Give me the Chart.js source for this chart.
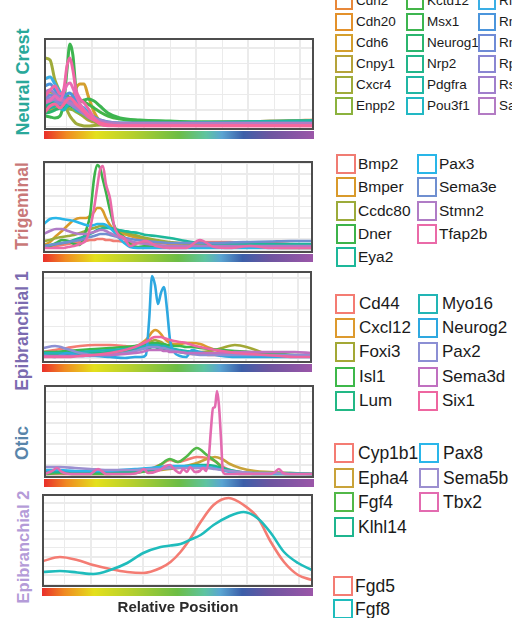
<!DOCTYPE html>
<html>
<head>
<meta charset="utf-8">
<script src="https://cdn.jsdelivr.net/npm/chart.js@4.4.0/dist/chart.umd.min.js"></script>
<style>
  body { margin:0; width:512px; height:618px; overflow:hidden; position:relative; background:#fff;
         font-family:"Liberation Sans", Arial, sans-serif; }
  canvas { position:absolute; }
  .ylab { position:absolute; font-weight:bold; white-space:nowrap; transform:translate(-50%,-50%) rotate(-90deg); }
  .leg { position:absolute; white-space:nowrap; color:#1a1a1a; }
  .leg span { position:absolute; left:0; top:0; box-sizing:border-box; border:2px solid; background:#fff; }
  .xlab { position:absolute; font-weight:bold; font-size:15px; color:#2b2b2b; transform:translate(-50%,-50%); white-space:nowrap; }
</style>
</head>
<body>
<script>
// ---- shared ----
var xGrid = [0.08, 0.177, 0.274, 0.371, 0.468, 0.565, 0.662, 0.759, 0.856, 0.953];

// ---- Neural Crest ----
var ncX = [0, 0.019, 0.037, 0.056, 0.071, 0.082, 0.093, 0.104, 0.116, 0.131, 0.146, 0.160, 0.183, 0.205, 0.235, 0.280, 0.354, 0.466, 0.578, 0.690, 0.802, 0.914, 1];
var ncYTicks = [0, 1.57, 3.14, 4.71, 6.28, 7.85];
var ncGenes = ["Cdh2", "Cdh20", "Cdh6", "Cnpy1", "Cxcr4", "Enpp2", "Kctd12", "Msx1", "Neurog1", "Nrp2", "Pdgfra", "Pou3f1", "Rfx4", "Rnd2", "Rnd3", "Rprm", "Rspo3", "Sall1", "Sox10", "Sox9", "Tfap2a"];
var ncCdh2    = [2.1,2.3,2.6,2.4,2.8,3.0,2.8,2.5,2.2,1.9,1.6,1.2,0.7,0.4,0.2, 0.2,0.25,0.3,0.35,0.4,0.45,0.5,0.6];
var ncCdh20   = [1.4,1.6,1.8,2.0,2.2,2.2,2.1,2.0,2.0,1.8,1.4,1.0,0.6,0.3,0.1, 0.1,0.1,0.1,0.1,0.1,0.1,0.1,0.1];
var ncCdh6    = [1.8,1.6,1.8,2.2,2.3,2.2,2.3,3.0,3.8,4.2,4.2,3.1,1.4,0.5,0.2, 0.15,0.2,0.3,0.35,0.4,0.45,0.5,0.55];
var ncCnpy1   = [3.1,3.4,3.2,2.6,2.4,2.3,2.2,2.0,1.6,1.2,0.9,0.6,0.4,0.2,0.1, 0.1,0.1,0.1,0.1,0.1,0.1,0.1,0.1];
var ncCxcr4   = [6.8,6.6,4.6,3.4,2.3,1.6,1.0,0.6,0.25,0.1,0,0,0.05,0.1,0.1, 0.1,0.1,0.1,0.1,0.1,0.1,0.1,0.1];
var ncEnpp2   = [2.2,2.6,2.8,2.4,2.0,1.8,1.7,1.6,1.4,1.2,1.0,0.8,0.5,0.3,0.2, 0.15,0.15,0.15,0.15,0.15,0.15,0.15,0.15];
var ncKctd12  = [1.8,2.0,2.3,2.6,2.8,3.0,2.8,2.6,2.5,2.5,2.4,2.2,1.8,1.4,1.0, 0.7,0.5,0.4,0.4,0.35,0.35,0.4,0.4];
var ncMsx1    = [1.0,0.9,0.8,1.0,2.6,5.6,8.2,7.1,3.6,2.5,2.6,2.7,2.5,2.0,1.3, 0.8,0.6,0.5,0.4,0.4,0.4,0.5,0.5];
var ncNeurog1 = [1.3,1.4,1.6,1.8,1.9,2.0,2.0,1.9,1.8,1.6,1.4,1.1,0.7,0.4,0.2, 0.15,0.15,0.15,0.15,0.15,0.15,0.15,0.15];
var ncNrp2    = [2.0,2.2,2.4,2.2,2.1,2.2,2.3,2.2,2.0,1.7,1.4,1.1,0.7,0.4,0.2, 0.2,0.2,0.2,0.2,0.2,0.2,0.2,0.2];
var ncPdgfra  = [1.6,1.8,2.0,2.2,2.6,2.8,2.6,2.3,2.0,1.8,1.6,1.3,0.9,0.6,0.4, 0.3,0.3,0.3,0.35,0.4,0.45,0.5,0.55];
var ncPou3f1  = [2.6,2.8,2.4,1.8,1.6,2.0,2.2,2.0,1.6,1.4,1.3,1.1,0.7,0.4,0.2, 0.1,0.1,0.1,0.1,0.1,0.1,0.1,0.1];
var ncRfx4    = [4.7,4.9,4.2,3.4,2.8,2.6,2.4,2.3,2.2,2.0,1.8,1.4,0.9,0.5,0.2, 0.1,0.1,0.1,0.1,0.1,0.1,0.1,0.1];
var ncRnd2    = [4.0,4.2,3.6,2.9,3.0,3.2,3.3,3.0,2.6,2.0,1.6,1.2,0.7,0.4,0.2, 0.15,0.15,0.15,0.15,0.15,0.15,0.15,0.15];
var ncRnd3    = [2.8,3.1,2.9,2.5,2.6,2.8,2.8,2.6,2.3,1.9,1.5,1.1,0.7,0.4,0.2, 0.2,0.2,0.2,0.2,0.2,0.2,0.2,0.2];
var ncRprm    = [2.6,2.8,2.6,2.2,2.4,2.6,2.6,2.4,2.2,1.8,1.4,1.1,0.8,0.6,0.4, 0.3,0.3,0.3,0.3,0.3,0.3,0.3,0.3];
var ncRspo3   = [3.4,3.6,3.2,2.8,2.6,2.4,2.2,2.0,1.8,1.5,1.2,0.9,0.6,0.4,0.3, 0.25,0.25,0.25,0.25,0.25,0.25,0.25,0.25];
var ncSall1   = [2.3,2.5,2.7,2.6,2.5,2.4,2.3,2.2,2.1,1.8,1.5,1.2,0.8,0.5,0.3, 0.25,0.25,0.25,0.25,0.25,0.25,0.25,0.25];
var ncSox10   = [3.0,3.6,4.0,3.2,3.8,6.0,6.8,5.6,3.6,2.7,2.3,1.8,0.8,0.2,0.02, 0.02,0.02,0.02,0.02,0.02,0.02,0.02,0.02];
var ncSox9    = [2.4,2.6,3.0,2.6,3.4,4.1,4.3,3.8,3.0,2.2,1.6,1.2,0.7,0.3,0.1, 0.05,0.05,0.05,0.05,0.05,0.05,0.05,0.05];
var ncTfap2a  = [1.4,2.0,2.2,1.8,2.2,2.6,2.8,2.6,2.2,1.8,1.4,1.0,0.6,0.3,0.1, 0.02,0.02,0.02,0.02,0.02,0.02,0.02,0.02];
var ncColors = ["#e8883a","#e3912b","#d49f2e","#b5a33a","#9fab3a","#8bb23e","#44b548","#3db550","#2bb56e","#22b58a","#20b6a4","#22b8c4","#3aaee5","#4b95dc","#6f8bd6","#8a86d2","#a07fcc","#b37bc4","#ef67a7","#e96bb5","#f7689c"];

// ---- Trigeminal ----
var tgX = [0, 0.022, 0.045, 0.067, 0.090, 0.112, 0.134, 0.157, 0.172, 0.187, 0.198, 0.209, 0.220, 0.231, 0.246, 0.261, 0.276, 0.299, 0.321, 0.351, 0.381, 0.418, 0.470, 0.530, 0.582, 0.634, 0.694, 0.769, 0.843, 0.918, 1];
var tgYTicks = [0, 1.08, 2.16, 3.24, 4.32, 5.4, 6.48, 7.56, 8.64];
var tgGenes = ["Bmp2", "Bmper", "Ccdc80", "Dner", "Eya2", "Pax3", "Sema3e", "Stmn2", "Tfap2b"];
var tgBmp2   = [0.3,0.3,0.4,0.5,0.6,0.7,0.8,0.9,1.0,1.0,1.1,1.1,1.1,1.0,1.0,0.9,0.9,0.8,0.7,0.7,0.7,0.7,0.7,0.7,0.8,0.8,0.8,0.7,0.7,0.6,0.5];
var tgBmper  = [0.5,0.8,1.4,1.9,2.5,3.0,3.2,3.2,3.4,3.8,4.2,4.2,3.9,3.2,2.5,2.0,1.8,1.6,1.4,1.2,1.0,0.8,0.6,0.4,0.3,0.3,0.3,0.3,0.25,0.2,0.2];
var tgCcdc80 = [0.9,1.0,1.2,1.3,1.4,1.5,1.7,1.9,2.1,2.2,2.3,2.4,2.4,2.3,2.2,2.1,2.0,1.8,1.6,1.4,1.2,1.0,0.8,0.6,0.5,0.5,0.5,0.5,0.5,0.5,0.5];
var tgDner   = [0.3,0.4,0.7,1.0,0.9,0.6,0.5,2.0,3.5,7.2,8.5,8.2,7.0,5.8,4.0,2.5,1.8,1.3,0.6,0.3,0.4,0.3,0.3,0.3,0.3,0.3,0.3,0.3,0.3,0.3,0.3];
var tgEya2   = [0.4,0.5,0.6,0.7,0.8,1.0,1.2,1.4,1.6,1.8,2.0,2.1,2.2,2.2,2.2,2.1,2.0,1.9,1.8,1.7,1.5,1.4,1.2,0.9,0.7,0.6,0.6,0.6,0.6,0.6,0.6];
var tgPax3   = [2.6,3.1,3.2,3.1,3.0,2.9,2.7,2.5,2.4,2.5,2.6,2.6,2.6,2.5,2.2,1.8,1.3,0.7,0.3,0.2,0.2,0.2,0.2,0.2,0.2,0.2,0.2,0.2,0.2,0.2,0.2];
var tgSema3e = [0.4,0.5,0.6,0.7,0.8,0.9,1.0,1.2,1.3,1.4,1.5,1.6,1.6,1.6,1.5,1.4,1.3,1.2,1.1,1.0,0.9,0.8,0.7,0.7,0.7,0.7,0.75,0.8,0.85,0.9,0.9];
var tgStmn2  = [1.6,1.9,2.1,2.1,1.9,1.7,1.6,1.6,1.7,1.8,1.9,2.0,2.0,1.9,1.7,1.5,1.3,1.1,0.9,0.7,0.6,0.5,0.4,0.4,0.4,0.4,0.4,0.4,0.4,0.4,0.4];
var tgTfap2b = [0.2,0.2,0.2,0.2,0.3,0.4,0.6,1.0,2.2,4.2,6.2,8.0,8.4,6.6,5.2,2.5,1.6,1.2,0.4,0.7,0.9,0.4,0.2,0.2,1.0,0.3,0.2,0.4,0.2,0.2,0.2];
var tgColors = ["#f07c73","#d99a2b","#9cab3a","#3cb34a","#1db89a","#29b6e8","#6f8fd0","#b07cc6","#ea6aa8"];

// ---- Epibranchial 1 ----
var e1X = [0, 0.045, 0.090, 0.138, 0.194, 0.250, 0.306, 0.343, 0.369, 0.384, 0.396, 0.407, 0.418, 0.429, 0.440, 0.451, 0.463, 0.474, 0.489, 0.511, 0.534, 0.556, 0.586, 0.623, 0.668, 0.716, 0.772, 0.828, 0.884, 0.940, 1];
var e1YTicks = [0, 1.6, 3.2, 4.8, 6.4, 8.0];
var e1Genes = ["Cd44", "Cxcl12", "Foxi3", "Isl1", "Lum", "Myo16", "Neurog2", "Pax2", "Sema3d", "Six1"];
var e1Cd44    = [0.6,0.8,1.0,1.2,1.3,1.3,1.2,1.1,1.1,1.1,1.2,1.2,1.2,1.1,1.1,1.0,0.9,0.8,0.7,0.6,0.5,0.4,0.4,0.3,0.3,0.3,0.2,0.2,0.2,0.2,0.2];
var e1Cxcl12  = [0.2,0.2,0.3,0.3,0.3,0.5,0.8,1.1,1.5,1.8,2.2,2.6,2.8,2.7,2.4,2.0,1.7,1.5,1.4,1.4,1.5,1.5,1.4,1.0,0.6,0.4,0.3,0.3,0.2,0.2,0.2];
var e1Foxi3   = [0.2,0.2,0.3,0.3,0.4,0.5,0.7,0.9,1.2,1.4,1.6,1.7,1.8,1.7,1.6,1.4,1.2,1.0,0.8,0.7,0.6,0.6,0.6,0.7,1.0,1.3,1.0,0.5,0.3,0.2,0.2];
var e1Isl1    = [0.6,0.6,0.7,0.8,0.9,1.0,1.1,1.2,1.3,1.4,1.4,1.5,1.5,1.5,1.4,1.4,1.3,1.3,1.2,1.2,1.1,1.1,1.0,0.9,0.8,0.7,0.6,0.5,0.4,0.3,0.3];
var e1Lum     = [0.4,0.4,0.4,0.4,0.5,0.6,0.7,0.8,0.9,1.0,1.0,1.1,1.1,1.0,1.0,0.9,0.8,0.8,0.7,0.6,0.5,0.5,0.4,0.4,0.3,0.3,0.3,0.2,0.2,0.2,0.2];
var e1Myo16   = [0.5,0.5,0.5,0.6,0.7,0.8,0.9,1.0,1.1,1.2,1.3,1.3,1.3,1.3,1.2,1.2,1.1,1.0,0.9,0.8,0.7,0.6,0.5,0.4,0.3,0.3,0.2,0.2,0.2,0.2,0.2];
var e1Neurog2 = [0.3,0.1,0.5,0.2,0.2,0.1,0.0,0.1,0.1,0.3,3.8,8.2,7.3,5.4,6.5,7.1,4.8,1.8,0.6,0.2,0.1,0.8,0.6,0.4,0.2,0.1,0.1,0.1,0.1,0.1,0.1];
var e1Pax2    = [1.0,1.2,0.9,0.5,0.3,0.3,0.5,0.7,0.9,1.0,1.1,1.1,1.1,1.1,1.0,1.0,0.9,0.8,0.7,0.6,0.5,0.4,0.3,0.3,0.3,0.3,0.3,0.3,0.3,0.3,0.3];
var e1Sema3d  = [0.2,0.2,0.2,0.2,0.3,0.3,0.4,0.5,0.6,0.7,0.8,0.8,0.8,0.8,0.8,0.7,0.7,0.6,0.6,0.6,0.5,0.5,0.5,0.5,0.5,0.6,0.6,0.6,0.6,0.6,0.5];
var e1Six1    = [0.1,0.1,0.1,0.2,0.3,0.5,0.8,1.1,1.4,1.6,1.8,2.0,2.1,2.1,2.1,2.0,1.9,1.8,1.7,1.6,1.5,1.3,1.1,0.9,0.7,0.5,0.4,0.3,0.2,0.1,0.1];
var e1Colors = ["#f47c73","#dd9a2e","#a3a835","#3db84a","#22b885","#22b5b5","#2ea8e0","#8c8fd4","#c070c0","#ee66a0"];

// ---- Otic ----
var otX = [0, 0.056, 0.112, 0.168, 0.224, 0.280, 0.336, 0.392, 0.429, 0.466, 0.496, 0.526, 0.567, 0.604, 0.634, 0.660, 0.690, 0.728, 0.784, 0.840, 0.914, 1];
var otTbx2X = [0, 0.026, 0.045, 0.063, 0.093, 0.168, 0.198, 0.228, 0.317, 0.354, 0.369, 0.384, 0.429, 0.451, 0.466, 0.485, 0.504, 0.515, 0.530, 0.541, 0.560, 0.578, 0.590, 0.601, 0.612, 0.619, 0.627, 0.634, 0.642, 0.649, 0.657, 0.664, 0.675, 0.728, 0.840, 0.858, 0.873, 0.888, 0.914, 1];
var otYTicks = [0, 1.04, 2.08, 3.12, 4.16, 5.2, 6.24, 7.28, 8.32];
var otGenes = ["Cyp1b1", "Epha4", "Fgf4", "Klhl14", "Pax8", "Sema5b", "Tbx2"];
var otCyp1b1 = [0.1,0.1,0.1,0.1,0.1,0.2,0.3,0.6,1.0,1.5,1.3,1.5,1.8,1.7,1.4,0.9,0.5,0.3,0.2,0.2,0.1,0.1];
var otEpha4  = [0.3,0.3,0.2,0.2,0.2,0.2,0.3,0.4,0.5,0.6,0.7,0.9,1.2,1.6,1.8,1.6,1.1,0.7,0.4,0.3,0.2,0.1];
var otFgf4   = [0.1,0.2,0.1,0.1,0.1,0.1,0.2,0.5,1.0,1.6,1.3,1.8,2.7,2.0,1.4,0.8,0.3,0.1,0.1,0.1,0.1,0.1];
var otKlhl14 = [0.3,0.3,0.3,0.3,0.3,0.3,0.4,0.5,0.6,0.7,0.8,0.9,1.0,1.0,0.9,0.7,0.5,0.3,0.2,0.2,0.2,0.1];
var otPax8   = [0.5,0.5,0.4,0.4,0.4,0.5,0.6,0.7,0.8,0.9,0.9,0.9,0.9,0.8,0.7,0.5,0.3,0.2,0.1,0.1,0.1,0.1];
var otSema5b = [0.8,0.8,0.7,0.6,0.5,0.5,0.5,0.6,0.6,0.7,0.7,0.7,0.7,0.7,0.6,0.5,0.4,0.3,0.2,0.2,0.1,0.1];
var otTbx2   = [0.1,0.4,0.7,0.3,0.1, 0.1,0.6,0.1,0.1,0.3, 0.6,0.2,0.5,0.9,1.0, 0.5,0.2,0.6,0.3,0.8, 0.3,0.4,0.7,0.4,2.0, 4.5,6.7,6.8,8.4,7.0, 3.5,0.3,0.1,0.1,0.1, 0.3,0.6,0.2,0.1,0.1];
var otColors = ["#f47c73","#c9a33a","#52b848","#1fb58f","#2ab6ea","#9c8fd0","#e36bb0"];

// ---- Epibranchial 2 ----
var e2X = [0, 0.063, 0.127, 0.187, 0.250, 0.313, 0.373, 0.437, 0.474, 0.511, 0.549, 0.586, 0.634, 0.690, 0.746, 0.799, 0.847, 0.896, 0.948, 1];
var e2YTicks = [0, 0.9, 1.8, 2.7, 3.6, 4.5, 5.4, 6.3, 7.2, 8.1];
var e2Genes = ["Fgd5", "Fgf8"];
var e2Fgd5 = [2.3,2.7,2.4,1.9,1.5,1.2,1.1,1.6,2.2,3.2,4.6,6.2,7.9,8.6,7.9,6.6,4.2,2.2,0.9,0.4];
var e2Fgf8 = [1.2,1.3,1.15,1.0,1.4,2.1,3.1,3.7,3.85,4.0,4.45,4.9,5.9,6.75,7.2,6.55,5.1,3.2,2.1,1.4];
var e2Colors = ["#f47c73","#1fbcbc"];

// ---- panels (layout + styling) ----
var panels = [
  { title:"Neural Crest", tColor:"#2aa89a", tFont:18, tPos:[23,82], box:[45,39,313,129], yMin:-0.3, yMax:8.7, yTicks:ncYTicks, lw:3,
    genes:ncGenes, colors:ncColors,
    series:[ncCdh2,ncCdh20,ncCdh6,ncCnpy1,ncCxcr4,ncEnpp2,ncKctd12,ncMsx1,ncNeurog1,ncNrp2,ncPdgfra,ncPou3f1,ncRfx4,ncRnd2,ncRnd3,ncRprm,ncRspo3,ncSall1,ncSox10,ncSox9,ncTfap2a],
    xs:null, x:ncX,
    leg:{cols:[335,406,478,550], rows:6, top:1, step:21, box:18, font:13.5, off:21} },
  { title:"Trigeminal", tColor:"#c97878", tFont:17.5, tPos:[21.5,206], box:[44,162,312,252], yMin:-0.2, yMax:8.8, yTicks:tgYTicks, lw:2.6,
    genes:tgGenes, colors:tgColors,
    series:[tgBmp2,tgBmper,tgCcdc80,tgDner,tgEya2,tgPax3,tgSema3e,tgStmn2,tgTfap2b], x:tgX,
    leg:{cols:[336,417], rows:5, top:164, step:23.3, box:20, font:15.5, off:22} },
  { title:"Epibranchial 1", tColor:"#7b6bb0", tFont:17.5, tPos:[22,331], box:[43,272,311,362], yMin:-0.4, yMax:8.6, yTicks:e1YTicks, lw:2.6,
    genes:e1Genes, colors:e1Colors,
    series:[e1Cd44,e1Cxcl12,e1Foxi3,e1Isl1,e1Lum,e1Myo16,e1Neurog2,e1Pax2,e1Sema3d,e1Six1], x:e1X,
    leg:{cols:[335,418], rows:5, top:303.5, step:24.4, box:20, font:17, off:24} },
  { title:"Otic", tColor:"#5985aa", tFont:17.5, tPos:[22,443], box:[45,386,313,477], yMin:-0.2, yMax:8.9, yTicks:otYTicks, lw:2.6,
    genes:otGenes, colors:otColors,
    series:[otCyp1b1,otEpha4,otFgf4,otKlhl14,otPax8,otSema5b,otTbx2], x:otX, xs:{6:otTbx2X},
    leg:{cols:[334,419], rows:4, top:453, step:24.6, box:20, font:17.5, off:24} },
  { title:"Epibranchial 2", tColor:"#b49bd8", tFont:16.5, tPos:[23,547], box:[43,495,312,586], yMin:-0.2, yMax:8.9, yTicks:e2YTicks, lw:2.6,
    genes:e2Genes, colors:e2Colors,
    series:[e2Fgd5,e2Fgf8], x:e2X,
    leg:{cols:[333], rows:2, top:585.5, step:23.5, box:20, font:17.5, off:22} }
];

var rainbowStops = [[0,"#e9322b"],[0.08,"#f08a22"],[0.19,"#e4e01c"],[0.33,"#b4cf2e"],[0.5,"#6cbd45"],[0.6,"#5ec4a0"],[0.66,"#5aa5d2"],[0.74,"#3c5fa9"],[0.84,"#6d55a0"],[1,"#9a56a8"]];

var framePlugin = {
  id: "frameRainbow",
  afterDraw: function (chart) {
    var ctx = chart.ctx, a = chart.chartArea;
    ctx.save();
    var g = ctx.createLinearGradient(a.left, 0, a.right, 0);
    rainbowStops.forEach(function (s) { g.addColorStop(s[0], s[1]); });
    ctx.fillStyle = g;
    ctx.fillRect(a.left - 1, a.bottom + 2, a.right - a.left + 2, 8);
    ctx.strokeStyle = "#4d4d4d";
    ctx.lineWidth = 2;
    ctx.strokeRect(a.left, a.top, a.right - a.left, a.bottom - a.top);
    ctx.restore();
  }
};

function makePanel(p) {
  var pad = 2;
  var W = p.box[2] - p.box[0], H = p.box[3] - p.box[1];
  var cv = document.createElement("canvas");
  cv.width = W + 2 * pad;
  cv.height = H + 2 * pad + 10;
  cv.style.left = (p.box[0] - pad) + "px";
  cv.style.top = (p.box[1] - pad) + "px";
  document.body.appendChild(cv);

  var datasets = p.series.map(function (vals, i) {
    var xs = (p.xs && p.xs[i]) ? p.xs[i] : p.x;
    return {
      label: p.genes[i],
      data: vals.map(function (v, j) { return { x: xs[j], y: v }; }),
      borderColor: p.colors[i],
      backgroundColor: p.colors[i],
      borderWidth: p.lw,
      pointRadius: 0,
      fill: false,
      cubicInterpolationMode: "monotone",
      borderJoinStyle: "round",
      borderCapStyle: "round",
      order: -i
    };
  });

  new Chart(cv, {
    type: "line",
    data: { datasets: datasets },
    options: {
      responsive: false,
      animation: false,
      events: [],
      layout: { padding: { left: pad, right: pad, top: pad, bottom: pad + 10 } },
      plugins: { legend: { display: false }, tooltip: { enabled: false } },
      scales: {
        x: {
          type: "linear", min: 0, max: 1,
          afterBuildTicks: function (ax) { ax.ticks = xGrid.map(function (v) { return { value: v }; }); },
          ticks: { display: false },
          grid: { color: "#ebebeb", lineWidth: function (c) { return c.index % 2 ? 2 : 1; }, drawTicks: false },
          border: { display: false }
        },
        y: {
          type: "linear", min: p.yMin, max: p.yMax,
          afterBuildTicks: function (ax) { ax.ticks = p.yTicks.map(function (v) { return { value: v }; }); },
          ticks: { display: false },
          grid: { color: "#ebebeb", lineWidth: function (c) { return c.index % 2 ? 2 : 1; }, drawTicks: false },
          border: { display: false }
        }
      }
    },
    plugins: [framePlugin]
  });

  // side label
  var t = document.createElement("div");
  t.className = "ylab";
  t.textContent = p.title;
  t.style.color = p.tColor;
  t.style.fontSize = p.tFont + "px";
  t.style.left = p.tPos[0] + "px";
  t.style.top = p.tPos[1] + "px";
  document.body.appendChild(t);

  // legend
  var L = p.leg;
  p.genes.forEach(function (name, i) {
    var col = Math.floor(i / L.rows), row = i % L.rows;
    var d = document.createElement("div");
    d.className = "leg";
    d.style.left = L.cols[col] + "px";
    d.style.top = (L.top + row * L.step - L.box / 2) + "px";
    d.style.height = L.box + "px";
    d.style.fontSize = L.font + "px";
    d.style.lineHeight = L.box + "px";
    d.style.paddingLeft = L.off + "px";
    var b = document.createElement("span");
    b.style.width = L.box + "px";
    b.style.height = L.box + "px";
    b.style.borderColor = p.colors[i];
    d.appendChild(b);
    d.appendChild(document.createTextNode(name));
    document.body.appendChild(d);
  });
}

panels.forEach(makePanel);

var xl = document.createElement("div");
xl.className = "xlab";
xl.textContent = "Relative Position";
xl.style.left = "178px";
xl.style.top = "606px";
document.body.appendChild(xl);
</script>
</body>
</html>
